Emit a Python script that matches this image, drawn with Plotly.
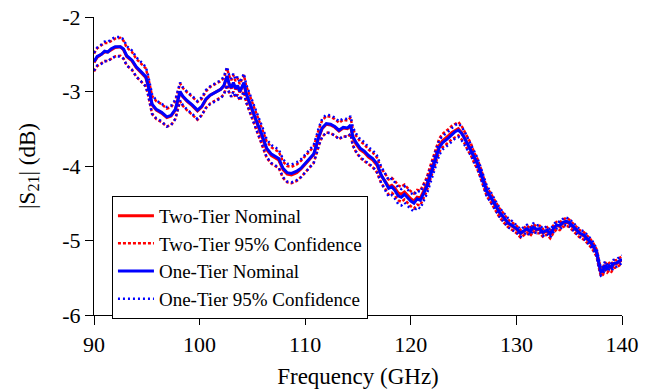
import plotly.graph_objects as go

freq = [90.0, 90.3, 90.7, 91.0, 91.3, 91.6, 92.0, 92.5, 92.8, 93.1,
        93.6, 94.0, 94.5, 94.9, 95.1, 95.3, 95.5, 95.9, 96.4, 96.9,
        97.3, 97.7, 98.0, 98.15, 98.4, 98.8, 99.3, 99.8, 100.2, 100.6,
        101.0, 101.5, 102.0, 102.3, 102.6, 102.8, 103.0, 103.2, 103.4, 103.6,
        103.8, 104.0, 104.2, 104.4, 104.6, 105.0, 105.4, 105.9, 106.35, 106.8,
        107.2, 107.5, 107.9, 108.3, 108.7, 109.2, 109.6, 110.0, 110.4, 110.8,
        111.1, 111.3, 111.6, 112.0, 112.4, 112.8, 113.2, 113.6, 114.0, 114.3,
        114.5, 114.8, 115.2, 115.6, 116.0, 116.4, 116.8, 117.2, 117.6, 117.9,
        118.2, 118.5, 118.8, 119.1, 119.4, 119.7, 120.0, 120.3, 120.6, 120.9,
        121.2, 121.5, 121.8, 122.1, 122.4, 122.7, 123.0, 123.3, 123.6, 123.9,
        124.2, 124.5, 124.8, 125.1, 125.4, 125.7, 126.0, 126.3, 126.6, 126.9,
        127.2, 127.5, 127.8, 128.1, 128.4, 128.8, 129.2, 129.6, 130.0, 130.4,
        130.7, 131.0, 131.3, 131.6, 131.9, 132.2, 132.5, 132.9, 133.2, 133.5,
        133.8, 134.1, 134.4, 134.7, 135.0, 135.3, 135.7, 136.0, 136.4, 136.7,
        137.0, 137.3, 137.6, 137.8, 138.0, 138.2, 138.4, 138.6, 138.8, 139.0,
        139.2, 139.5, 139.8, 140.0]

one_nom = [-2.60, -2.53, -2.50, -2.46, -2.47, -2.43, -2.40, -2.40, -2.43, -2.52,
           -2.58, -2.67, -2.74, -2.80, -2.90, -3.05, -3.17, -3.24, -3.28, -3.34,
           -3.32, -3.24, -3.08, -3.00, -3.06, -3.12, -3.18, -3.25, -3.20, -3.10,
           -3.05, -3.01, -2.97, -2.92, -2.79, -2.90, -2.95, -2.88, -2.96, -2.92,
           -3.00, -2.94, -2.88, -3.02, -3.10, -3.25, -3.40, -3.58, -3.76, -3.84,
           -3.87, -3.90, -4.03, -4.09, -4.10, -4.07, -4.03, -3.97, -3.91, -3.84,
           -3.70, -3.60, -3.49, -3.43, -3.44, -3.47, -3.52, -3.48, -3.49, -3.45,
           -3.60, -3.68, -3.76, -3.80, -3.86, -3.90, -3.97, -4.12, -4.22, -4.30,
           -4.28, -4.33, -4.40, -4.42, -4.38, -4.43, -4.47, -4.50, -4.44, -4.46,
           -4.37, -4.28, -4.15, -4.02, -3.86, -3.75, -3.69, -3.66, -3.62, -3.58,
           -3.54, -3.52, -3.56, -3.63, -3.71, -3.78, -3.88, -3.96, -4.08, -4.20,
           -4.34, -4.40, -4.48, -4.55, -4.62, -4.69, -4.76, -4.80, -4.84, -4.90,
           -4.87, -4.84, -4.88, -4.82, -4.85, -4.84, -4.89, -4.86, -4.91, -4.84,
           -4.79, -4.80, -4.76, -4.74, -4.76, -4.80, -4.86, -4.90, -4.93, -4.97,
           -5.02, -5.08, -5.16, -5.30, -5.42, -5.40, -5.33, -5.37, -5.34, -5.36,
           -5.31, -5.30, -5.27, -5.25]

two_nom = [-2.61, -2.54, -2.50, -2.47, -2.47, -2.44, -2.41, -2.40, -2.44, -2.53,
           -2.59, -2.68, -2.75, -2.81, -2.91, -3.06, -3.18, -3.25, -3.29, -3.35,
           -3.33, -3.25, -3.09, -3.01, -3.07, -3.13, -3.19, -3.26, -3.21, -3.11,
           -3.05, -3.01, -2.97, -2.93, -2.80, -2.90, -2.96, -2.89, -2.97, -2.93,
           -3.01, -2.95, -2.89, -3.03, -3.11, -3.26, -3.41, -3.60, -3.78, -3.86,
           -3.89, -3.92, -4.05, -4.11, -4.12, -4.09, -4.04, -3.98, -3.92, -3.85,
           -3.71, -3.61, -3.50, -3.44, -3.45, -3.48, -3.53, -3.49, -3.50, -3.46,
           -3.61, -3.70, -3.78, -3.82, -3.88, -3.92, -3.99, -4.13, -4.21, -4.28,
           -4.26, -4.30, -4.36, -4.38, -4.35, -4.40, -4.44, -4.47, -4.42, -4.43,
           -4.34, -4.25, -4.11, -3.98, -3.83, -3.72, -3.66, -3.63, -3.59, -3.55,
           -3.52, -3.50, -3.55, -3.62, -3.71, -3.78, -3.89, -3.97, -4.09, -4.21,
           -4.35, -4.41, -4.49, -4.56, -4.63, -4.70, -4.77, -4.81, -4.85, -4.91,
           -4.88, -4.85, -4.89, -4.83, -4.86, -4.85, -4.90, -4.87, -4.92, -4.85,
           -4.80, -4.81, -4.77, -4.75, -4.77, -4.81, -4.87, -4.91, -4.94, -4.98,
           -5.03, -5.09, -5.17, -5.31, -5.43, -5.41, -5.34, -5.38, -5.35, -5.37,
           -5.32, -5.31, -5.28, -5.26]

one_hw = [0.12, 0.12, 0.13, 0.13, 0.13, 0.13, 0.13, 0.13, 0.13, 0.13,
          0.13, 0.13, 0.13, 0.13, 0.13, 0.13, 0.13, 0.12, 0.12, 0.13,
          0.13, 0.13, 0.12, 0.12, 0.12, 0.12, 0.12, 0.12, 0.12, 0.12,
          0.12, 0.12, 0.12, 0.12, 0.12, 0.12, 0.12, 0.12, 0.12, 0.12,
          0.12, 0.12, 0.12, 0.12, 0.12, 0.12, 0.12, 0.12, 0.12, 0.12,
          0.12, 0.12, 0.12, 0.12, 0.12, 0.12, 0.12, 0.12, 0.12, 0.12,
          0.12, 0.12, 0.12, 0.12, 0.12, 0.12, 0.12, 0.12, 0.12, 0.12,
          0.12, 0.12, 0.12, 0.12, 0.11, 0.11, 0.11, 0.11, 0.11, 0.11,
          0.11, 0.11, 0.11, 0.11, 0.11, 0.11, 0.11, 0.11, 0.11, 0.11,
          0.10, 0.10, 0.10, 0.10, 0.10, 0.10, 0.09, 0.09, 0.09, 0.09,
          0.09, 0.09, 0.09, 0.09, 0.08, 0.08, 0.07, 0.07, 0.07, 0.07,
          0.07, 0.07, 0.06, 0.06, 0.06, 0.06, 0.06, 0.06, 0.05, 0.05,
          0.05, 0.05, 0.05, 0.05, 0.05, 0.05, 0.05, 0.05, 0.05, 0.05,
          0.05, 0.05, 0.05, 0.05, 0.05, 0.05, 0.05, 0.05, 0.05, 0.05,
          0.05, 0.05, 0.05, 0.05, 0.05, 0.05, 0.05, 0.05, 0.05, 0.05,
          0.05, 0.05, 0.05, 0.05]

two_hw = [0.12, 0.12, 0.12, 0.12, 0.12, 0.12, 0.12, 0.12, 0.12, 0.12,
          0.12, 0.12, 0.12, 0.12, 0.12, 0.12, 0.12, 0.12, 0.12, 0.12,
          0.12, 0.12, 0.12, 0.12, 0.12, 0.12, 0.12, 0.12, 0.11, 0.11,
          0.11, 0.11, 0.11, 0.11, 0.11, 0.11, 0.11, 0.11, 0.11, 0.11,
          0.11, 0.11, 0.11, 0.11, 0.11, 0.11, 0.11, 0.11, 0.11, 0.11,
          0.11, 0.11, 0.11, 0.11, 0.11, 0.11, 0.11, 0.11, 0.11, 0.11,
          0.11, 0.11, 0.11, 0.11, 0.11, 0.11, 0.11, 0.11, 0.11, 0.11,
          0.11, 0.11, 0.11, 0.11, 0.10, 0.10, 0.10, 0.10, 0.10, 0.10,
          0.10, 0.10, 0.10, 0.10, 0.10, 0.10, 0.10, 0.10, 0.10, 0.10,
          0.09, 0.09, 0.09, 0.09, 0.09, 0.09, 0.09, 0.09, 0.09, 0.09,
          0.09, 0.09, 0.09, 0.08, 0.08, 0.08, 0.07, 0.07, 0.07, 0.07,
          0.06, 0.06, 0.06, 0.06, 0.06, 0.06, 0.05, 0.05, 0.05, 0.05,
          0.05, 0.05, 0.05, 0.05, 0.05, 0.05, 0.05, 0.05, 0.05, 0.05,
          0.05, 0.05, 0.05, 0.05, 0.05, 0.05, 0.05, 0.05, 0.05, 0.05,
          0.05, 0.05, 0.05, 0.05, 0.05, 0.05, 0.05, 0.05, 0.05, 0.05,
          0.05, 0.05, 0.05, 0.05]

x_tick_vals = [90, 100, 110, 120, 130, 140]
x_tick_text = ["90", "100", "110", "120", "130", "140"]
y_tick_vals = [-6, -5, -4, -3, -2]
y_tick_text = ["-6", "-5", "-4", "-3", "-2"]

RED = "#ff0000"
BLUE = "#0000ff"
FONT = "Liberation Serif"

two_up = [n + h for n, h in zip(two_nom, two_hw)]
two_lo = [n - h for n, h in zip(two_nom, two_hw)]
one_up = [n + h for n, h in zip(one_nom, one_hw)]
one_lo = [n - h for n, h in zip(one_nom, one_hw)]

fig = go.Figure()
fig.add_trace(go.Scatter(x=freq, y=two_nom, mode="lines", name="Two-Tier Nominal",
                         line=dict(color=RED, width=3)))
fig.add_trace(go.Scatter(x=freq, y=two_up, mode="lines", name="Two-Tier 95% Confidence",
                         line=dict(color=RED, width=2.5, dash="3px,2px")))
fig.add_trace(go.Scatter(x=freq, y=two_lo, mode="lines", name="Two-Tier 95% Confidence",
                         line=dict(color=RED, width=2.5, dash="3px,2px"),
                         showlegend=False))
fig.add_trace(go.Scatter(x=freq, y=one_nom, mode="lines", name="One-Tier Nominal",
                         line=dict(color=BLUE, width=3)))
fig.add_trace(go.Scatter(x=freq, y=one_up, mode="lines", name="One-Tier 95% Confidence",
                         line=dict(color=BLUE, width=2.5, dash="2px,3px")))
fig.add_trace(go.Scatter(x=freq, y=one_lo, mode="lines", name="One-Tier 95% Confidence",
                         line=dict(color=BLUE, width=2.5, dash="2px,3px"),
                         showlegend=False))

fig.update_layout(
    width=660, height=392,
    margin=dict(l=94, r=38, t=17, b=77),
    paper_bgcolor="white", plot_bgcolor="white",
    font=dict(family=FONT, size=22, color="black"),
    legend=dict(x=0.034, y=0.40, xanchor="left", yanchor="top",
                bgcolor="white", bordercolor="black", borderwidth=1,
                font=dict(family=FONT, size=19, color="black"),
                tracegroupgap=0, itemwidth=36, traceorder="normal"),
    xaxis=dict(range=[90, 140], tickvals=x_tick_vals, ticktext=x_tick_text,
               showline=True, linecolor="black", linewidth=1.2,
               ticks="outside", ticklen=9, tickwidth=1.2, tickcolor="black",
               showgrid=False, zeroline=False, automargin=False,
               tickfont=dict(family=FONT, size=22, color="black"),
               title=dict(text="Frequency (GHz)", standoff=12,
                          font=dict(family=FONT, size=23, color="black"))),
    yaxis=dict(range=[-6, -2], tickvals=y_tick_vals, ticktext=y_tick_text,
               showline=True, linecolor="black", linewidth=1.2,
               ticks="outside", ticklen=8, tickwidth=1.2, tickcolor="black",
               showgrid=False, zeroline=False, automargin=False,
               tickfont=dict(family=FONT, size=22, color="black"),
               title=dict(text="|S<sub>21</sub>| (dB)", standoff=20,
                          font=dict(family=FONT, size=23, color="black"))),
)

fig.write_html("out.html")
